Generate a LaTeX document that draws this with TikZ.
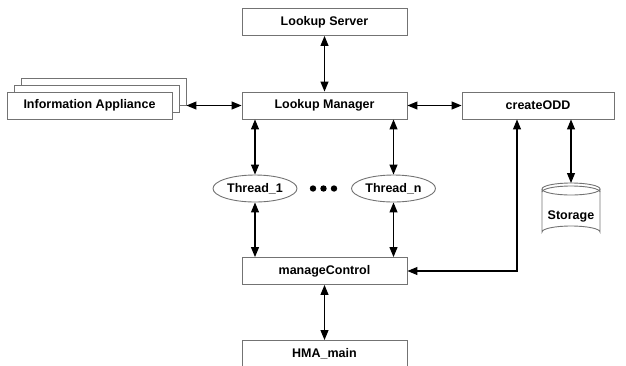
\documentclass[tikz,border=0pt]{standalone}
\usepackage{fontspec}
\setmainfont{Liberation Sans}
\usetikzlibrary{arrows.meta,shapes.geometric}
\begin{document}
\begin{tikzpicture}[x=1pt,y=-1pt,
  box/.style={draw=black!55,line width=0.9pt,fill=white,minimum width=165pt,minimum height=27pt,inner sep=0pt,font=\fontsize{12.5}{14}\selectfont\bfseries},
  thr/.style={ellipse,draw=black!55,line width=0.9pt,fill=white,minimum width=84pt,minimum height=27pt,inner sep=0pt,font=\fontsize{12.5}{14}\selectfont\bfseries},
  arr/.style={line width=1.1pt,{Triangle[length=10pt,width=8pt]}-{Triangle[length=10pt,width=8pt]}},
  arrone/.style={line width=1.1pt,-{Triangle[length=10pt,width=8pt]}}]
\useasboundingbox (0,0) rectangle (626,365);
\begin{scope}
\clip (0,0) rectangle (626,365);
% nodes
\node[box] (ls) at (324.5,22) {Lookup Server};
\node[box] (lm) at (324.5,105.5) {Lookup Manager};
\node[box,minimum width=152pt] (odd) at (538,105.5) {createODD};
\node[box] (mc) at (324.5,271) {manageControl};
\node[box,minimum height=50pt,anchor=north] (hma) at (324.5,340) {};
\node[font=\fontsize{12.5}{14}\selectfont\bfseries] (hmat) at (324.5,353.5) {HMA\_main};
% information appliance stack
\node[box,minimum width=165pt,text=white] (ia3) at (103.5,91.5) {};
\node[box,minimum width=165pt] (ia2) at (96.5,98.5) {};
\node[box,minimum width=165pt] (ia) at (89.5,105.5) {Information Appliance};
% threads
\node[thr] (t1) at (255,188.5) {Thread\_1};
\node[thr] (tn) at (393.5,188.5) {Thread\_n};
\fill (313,188.5) circle (3.2pt) (323.5,188.5) circle (3.2pt) (334,188.5) circle (3.2pt);
% storage cylinder
\coordinate (sttop) at (571,183);
\begin{scope}[draw=black!55,line width=0.9pt]
\draw (542,189) -- (542,232) arc[start angle=180,end angle=360,x radius=29,y radius=6] -- (600,189);
\draw (571,189) ellipse[x radius=29,y radius=6];
\draw (542,192) arc[start angle=180,end angle=360,x radius=29,y radius=6];
\end{scope}
\node[font=\fontsize{12.5}{14}\selectfont\bfseries] (st) at (571,216) {Storage};
% connectors
\draw[arr] (ls.south) -- (lm.north);
\draw[arr] (ia3.east |- ia.east) -- (lm.west);
\draw[arr] (lm.east) -- (odd.west);
\draw[arr] (odd.south -| sttop) -- (sttop);
\draw[arr] (lm.south -| t1.north) -- (t1.north);
\draw[arr] (lm.south -| tn.north) -- (tn.north);
\draw[arr] (t1.south) -- (mc.north -| t1.south);
\draw[arr] (tn.south) -- (mc.north -| tn.south);
\coordinate (corner) at (517,271);
\draw[arr] (odd.south -| corner) -- (corner) -- (mc.east);
\draw[arr] (mc.south) -- (hma.north);
\end{scope}
\end{tikzpicture}
\end{document}
